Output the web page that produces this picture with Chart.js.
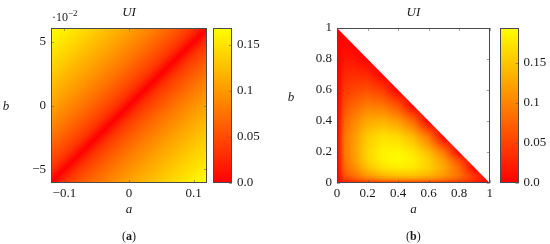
<!DOCTYPE html>
<html>
<head>
<meta charset="utf-8">
<script src="https://cdn.jsdelivr.net/npm/chart.js@4.4.1/dist/chart.umd.min.js"></script>
<style>
  body { margin: 0; background: #fff; }
  #wrap { position: relative; width: 550px; height: 244px; overflow: hidden; }
  canvas { position: absolute; top: 0; }
</style>
</head>
<body>
<div id="wrap">
  <canvas id="heatA" width="210" height="244" style="left:0px"></canvas>
  <canvas id="barA" width="65" height="244" style="left:210px"></canvas>
  <canvas id="heatB" width="214" height="244" style="left:282px"></canvas>
  <canvas id="barB" width="54" height="244" style="left:496px"></canvas>
</div>
<script>
// ---- (a) UI over a, b (values at grid nodes) ----
const leftA = [-0.12, -0.10, -0.08, -0.06, -0.04, -0.02, 0, 0.02, 0.04, 0.06, 0.08, 0.10, 0.12];
const leftB = [-0.06, -0.05, -0.04, -0.03, -0.02, -0.01, 0, 0.01, 0.02, 0.03, 0.04, 0.05, 0.06];
// rows follow leftB, columns follow leftA
const leftUI = [
  [0, 0.033, 0.052, 0.068, 0.082, 0.095, 0.107, 0.118, 0.129, 0.139, 0.149, 0.159, 0.168],
  [0.033, 0, 0.033, 0.052, 0.068, 0.082, 0.095, 0.107, 0.118, 0.129, 0.139, 0.149, 0.159],
  [0.052, 0.033, 0, 0.033, 0.052, 0.068, 0.082, 0.095, 0.107, 0.118, 0.129, 0.139, 0.149],
  [0.068, 0.052, 0.033, 0, 0.033, 0.052, 0.068, 0.082, 0.095, 0.107, 0.118, 0.129, 0.139],
  [0.082, 0.068, 0.052, 0.033, 0, 0.033, 0.052, 0.068, 0.082, 0.095, 0.107, 0.118, 0.129],
  [0.095, 0.082, 0.068, 0.052, 0.033, 0, 0.033, 0.052, 0.068, 0.082, 0.095, 0.107, 0.118],
  [0.107, 0.095, 0.082, 0.068, 0.052, 0.033, 0, 0.033, 0.052, 0.068, 0.082, 0.095, 0.107],
  [0.118, 0.107, 0.095, 0.082, 0.068, 0.052, 0.033, 0, 0.033, 0.052, 0.068, 0.082, 0.095],
  [0.129, 0.118, 0.107, 0.095, 0.082, 0.068, 0.052, 0.033, 0, 0.033, 0.052, 0.068, 0.082],
  [0.139, 0.129, 0.118, 0.107, 0.095, 0.082, 0.068, 0.052, 0.033, 0, 0.033, 0.052, 0.068],
  [0.149, 0.139, 0.129, 0.118, 0.107, 0.095, 0.082, 0.068, 0.052, 0.033, 0, 0.033, 0.052],
  [0.159, 0.149, 0.139, 0.129, 0.118, 0.107, 0.095, 0.082, 0.068, 0.052, 0.033, 0, 0.033],
  [0.168, 0.159, 0.149, 0.139, 0.129, 0.118, 0.107, 0.095, 0.082, 0.068, 0.052, 0.033, 0]
];
const leftATicks = [-0.1, 0, 0.1];
const leftATickLabels = ['\u22120.1', '0', '0.1'];
const leftBTicks = [-0.05, 0, 0.05];
const leftBTickLabels = ['\u22125', '0', '5'];
const leftColorMax = 0.168;
const leftColorTicks = [0, 0.05, 0.1, 0.15];
const leftColorLabels = ['0.0', '0.05', '0.1', '0.15'];

// ---- (b) UI over the simplex a + b <= 1 (null = outside the triangle) ----
const rightA = [0, 0.05, 0.1, 0.2, 0.3, 0.4, 0.5, 0.6, 0.7, 0.8, 0.9, 1];
const rightB = [0, 0.01, 0.025, 0.05, 0.1, 0.15, 0.2, 0.3, 0.4, 0.5, 0.6, 0.7, 0.8, 0.9, 1];
const rightUI = [
  [0, 0, 0, 0, 0, 0, 0, 0, 0, 0, 0, 0],
  [0, 0.029, 0.037, 0.054, 0.065, 0.069, 0.070, 0.066, 0.057, 0.045, 0.026, null],
  [0, 0.048, 0.062, 0.090, 0.107, 0.114, 0.114, 0.107, 0.092, 0.070, 0.038, null],
  [0, 0.064, 0.082, 0.119, 0.140, 0.149, 0.148, 0.137, 0.116, 0.084, 0.037, null],
  [0, 0.079, 0.101, 0.146, 0.171, 0.180, 0.175, 0.157, 0.126, 0.079, 0, null],
  [0, 0.086, 0.110, 0.159, 0.183, 0.190, 0.181, 0.156, 0.115, 0.052, null, null],
  [0, 0.089, 0.113, 0.161, 0.184, 0.187, 0.173, 0.141, 0.090, 0, null, null],
  [0, 0.088, 0.111, 0.153, 0.170, 0.164, 0.138, 0.089, 0, null, null, null],
  [0, 0.077, 0.096, 0.128, 0.134, 0.118, 0.079, 0, null, null, null, null],
  [0, 0.060, 0.074, 0.094, 0.089, 0.062, 0, null, null, null, null, null],
  [0, 0.043, 0.051, 0.060, 0.045, 0, null, null, null, null, null, null],
  [0, 0.029, 0.033, 0.030, 0, null, null, null, null, null, null, null],
  [0, 0.015, 0.016, 0, null, null, null, null, null, null, null, null],
  [0, 0.006, 0, null, null, null, null, null, null, null, null, null],
  [0, null, null, null, null, null, null, null, null, null, null, null]
];
const rightTicks = [0, 0.2, 0.4, 0.6, 0.8, 1];
const rightTickLabels = ['0', '0.2', '0.4', '0.6', '0.8', '1'];
const rightColorMax = 0.193;
const rightColorTicks = [0, 0.05, 0.1, 0.15];
const rightColorLabels = ['0.0', '0.05', '0.1', '0.15'];

const serif = '"Liberation Serif", "Times New Roman", serif';
Chart.defaults.font.family = serif;
Chart.defaults.font.size = 13;
Chart.defaults.color = '#1a1a1a';

// shading between grid nodes (interp shader): either two linear triangles
// split along the rising diagonal, or plain bilinear
function lookup(xs, ys, vals, a, b, mode) {
  let i = 0;
  while (i < xs.length - 2 && a > xs[i + 1]) i++;
  let j = 0;
  while (j < ys.length - 2 && b > ys[j + 1]) j++;
  const t = Math.min(1, Math.max(0, (a - xs[i]) / (xs[i + 1] - xs[i])));
  const u = Math.min(1, Math.max(0, (b - ys[j]) / (ys[j + 1] - ys[j])));
  const g = (jj, ii) => vals[jj][ii] ?? 0;
  const g00 = g(j, i), g10 = g(j, i + 1), g01 = g(j + 1, i), g11 = g(j + 1, i + 1);
  if (mode === 'tri') {
    if (t >= u) return g00 + t * (g10 - g00) + u * (g11 - g10);
    return g00 + u * (g01 - g00) + t * (g11 - g01);
  }
  return (1 - t) * (1 - u) * g00 + t * (1 - u) * g10 + (1 - t) * u * g01 + t * u * g11;
}

const shadePlugin = {
  id: 'shade',
  beforeDatasetsDraw(chart, args, opts) {
    if (!opts.vals) return;
    const { ctx, chartArea: ca, scales: { x, y } } = chart;
    const x0 = Math.floor(ca.left), y0 = Math.floor(ca.top);
    const w = Math.ceil(ca.right) - x0, h = Math.ceil(ca.bottom) - y0;
    const off = document.createElement('canvas');
    off.width = w; off.height = h;
    const octx = off.getContext('2d');
    const img = octx.createImageData(w, h);
    for (let py = 0; py < h; py++) {
      const b = y.getValueForPixel(y0 + py + 0.5);
      for (let px = 0; px < w; px++) {
        const a = x.getValueForPixel(x0 + px + 0.5);
        const v = lookup(opts.xs, opts.ys, opts.vals, a, b, opts.mode);
        const k = 4 * (py * w + px);
        img.data[k] = 255;
        img.data[k + 1] = Math.round(255 * Math.min(1, Math.max(0, v / opts.vmax)));
        img.data[k + 2] = 0;
        img.data[k + 3] = 255;
      }
    }
    octx.putImageData(img, 0, 0);
    ctx.save();
    ctx.beginPath();
    if (opts.triangle) {
      ctx.moveTo(x.getPixelForValue(0), y.getPixelForValue(0));
      ctx.lineTo(x.getPixelForValue(1), y.getPixelForValue(0));
      ctx.lineTo(x.getPixelForValue(0), y.getPixelForValue(1));
      ctx.closePath();
    } else {
      ctx.rect(ca.left, ca.top, ca.width, ca.height);
    }
    ctx.clip();
    ctx.drawImage(off, x0, y0);
    ctx.restore();
  }
};

const colorbarPlugin = {
  id: 'colorbar',
  beforeDatasetsDraw(chart, args, opts) {
    if (!opts.vmax) return;
    const { ctx, chartArea: ca, scales: { y } } = chart;
    const grad = ctx.createLinearGradient(0, y.getPixelForValue(0), 0, y.getPixelForValue(opts.vmax));
    grad.addColorStop(0, 'rgb(255,0,0)');
    grad.addColorStop(1, 'rgb(255,255,0)');
    ctx.save();
    ctx.fillStyle = grad;
    ctx.fillRect(ca.left, ca.top, ca.width, ca.height);
    ctx.restore();
  }
};

// frame plus small inward tick marks
const framePlugin = {
  id: 'frame',
  afterDatasetsDraw(chart, args, opts) {
    const { ctx, chartArea: ca, scales } = chart;
    const L = 3;
    ctx.save();
    ctx.strokeStyle = 'rgba(90,90,90,0.55)';
    ctx.lineWidth = 1;
    ctx.beginPath();
    if (scales.x.options.display) {
      for (const t of scales.x.ticks) {
        const px = Math.round(scales.x.getPixelForValue(t.value)) + 0.5;
        ctx.moveTo(px, ca.bottom); ctx.lineTo(px, ca.bottom - L);
        ctx.moveTo(px, ca.top); ctx.lineTo(px, ca.top + L);
      }
    }
    for (const t of scales.y.ticks) {
      const py = Math.round(scales.y.getPixelForValue(t.value)) + 0.5;
      if (!opts.rightOnly) { ctx.moveTo(ca.left, py); ctx.lineTo(ca.left + L, py); }
      ctx.moveTo(ca.right, py); ctx.lineTo(ca.right - L, py);
    }
    ctx.stroke();
    ctx.strokeStyle = '#4a4a4a';
    ctx.strokeRect(Math.round(ca.left) + 0.5, Math.round(ca.top) + 0.5,
                   Math.round(ca.right) - Math.round(ca.left) - 1, Math.round(ca.bottom) - Math.round(ca.top) - 1);
    ctx.restore();
  }
};

// titles, axis names, caption and the 10^-2 multiplier
const textPlugin = {
  id: 'texts',
  afterDraw(chart, args, opts) {
    if (!opts.items) return;
    const { ctx, chartArea: ca } = chart;
    const cx = (ca.left + ca.right) / 2;
    ctx.save();
    ctx.fillStyle = '#1a1a1a';
    ctx.textBaseline = 'alphabetic';
    for (const it of opts.items) {
      let x = it.x === 'center' ? cx : it.x;
      const parts = it.parts || [{ text: it.text, style: it.style || '', size: it.size || 13, dy: 0 }];
      let total = 0;
      for (const p of parts) {
        ctx.font = `${p.style || ''} ${p.size || 13}px ${serif}`;
        total += ctx.measureText(p.text).width;
      }
      if (it.align !== 'left') x -= total / 2;
      ctx.textAlign = 'left';
      for (const p of parts) {
        ctx.font = `${p.style || ''} ${p.size || 13}px ${serif}`;
        ctx.fillText(p.text, x, it.y + (p.dy || 0));
        x += ctx.measureText(p.text).width;
      }
    }
    ctx.restore();
  }
};

function heatChart(id, o) {
  const nodes = [];
  o.ys.forEach((b, j) => o.xs.forEach((a, i) => {
    if (o.vals[j][i] !== null) nodes.push({ x: a, y: b });
  }));
  return new Chart(document.getElementById(id), {
    type: 'scatter',
    data: { datasets: [{ data: nodes, pointRadius: 0, pointHoverRadius: 0 }] },
    plugins: [shadePlugin, framePlugin, textPlugin],
    options: {
      responsive: false,
      animation: false,
      devicePixelRatio: 1,
      events: [],
      layout: { padding: { top: 28, right: o.padRight, left: 0, bottom: 0 } },
      plugins: {
        legend: { display: false },
        tooltip: { enabled: false },
        shade: { xs: o.xs, ys: o.ys, vals: o.vals, vmax: o.vmax, triangle: o.triangle, mode: o.mode },
        frame: {},
        texts: { items: o.texts }
      },
      scales: {
        x: {
          type: 'linear', min: o.xMin, max: o.xMax,
          grid: { display: false, drawTicks: false },
          border: { display: false },
          afterBuildTicks: s => { s.ticks = o.xTicks.map(v => ({ value: v })); },
          afterFit: s => { s.height = 61; },
          ticks: { padding: 3, autoSkip: false, maxRotation: 0, callback: (v, i) => o.xLabels[i] }
        },
        y: {
          type: 'linear', min: o.yMin, max: o.yMax,
          grid: { display: false, drawTicks: false },
          border: { display: false },
          afterBuildTicks: s => { s.ticks = o.yTicks.map(v => ({ value: v })); },
          afterFit: s => { s.width = o.yWidth; },
          ticks: { padding: 5, autoSkip: false, callback: (v, i) => o.yLabels[i] }
        }
      }
    }
  });
}

function colorBar(id, o) {
  return new Chart(document.getElementById(id), {
    type: 'scatter',
    data: { datasets: [] },
    plugins: [colorbarPlugin, framePlugin],
    options: {
      responsive: false,
      animation: false,
      devicePixelRatio: 1,
      events: [],
      layout: { padding: { top: 28, bottom: 61, left: o.padLeft, right: 0 } },
      plugins: {
        legend: { display: false },
        tooltip: { enabled: false },
        colorbar: { vmax: o.vmax },
        frame: { rightOnly: true }
      },
      scales: {
        x: { display: false, min: 0, max: 1 },
        y: {
          position: 'right', min: 0, max: o.vmax,
          grid: { display: false, drawTicks: false },
          border: { display: false },
          afterBuildTicks: s => { s.ticks = o.ticks.map(v => ({ value: v })); },
          afterFit: s => { s.width = o.width; },
          ticks: { padding: 5, autoSkip: false, callback: (v, i) => o.labels[i] }
        }
      }
    }
  });
}

heatChart('heatA', {
  xs: leftA, ys: leftB, vals: leftUI, vmax: leftColorMax, triangle: false, mode: 'tri',
  xMin: -0.1207, xMax: 0.1207, yMin: -0.0607, yMax: 0.0607,
  xTicks: leftATicks, xLabels: leftATickLabels,
  yTicks: leftBTicks, yLabels: leftBTickLabels,
  yWidth: 51, padRight: 3,
  texts: [
    { text: 'UI', style: 'italic', x: 'center', y: 16 },
    { align: 'left', x: 52, y: 21, parts: [
      { text: '\u00b710', size: 12 },
      { text: '\u22122', size: 9, dy: -5 }
    ] },
    { text: 'b', style: 'italic', x: 6, y: 110 },
    { text: 'a', style: 'italic', x: 'center', y: 213 },
    { x: 'center', y: 240, parts: [
      { text: '(', size: 12 }, { text: 'a', style: 'bold', size: 12 }, { text: ')', size: 12 }
    ] }
  ]
});

colorBar('barA', { vmax: leftColorMax, ticks: leftColorTicks, labels: leftColorLabels, padLeft: 3, width: 43 });

heatChart('heatB', {
  xs: rightA, ys: rightB, vals: rightUI, vmax: rightColorMax, triangle: true, mode: 'bilinear',
  xMin: 0, xMax: 1, yMin: 0, yMax: 1,
  xTicks: rightTicks, xLabels: rightTickLabels,
  yTicks: rightTicks, yLabels: rightTickLabels,
  yWidth: 55, padRight: 3,
  texts: [
    { text: 'UI', style: 'italic', x: 'center', y: 16 },
    { text: 'b', style: 'italic', x: 9, y: 101 },
    { text: 'a', style: 'italic', x: 'center', y: 213 },
    { x: 'center', y: 240, parts: [
      { text: '(', size: 12 }, { text: 'b', style: 'bold', size: 12 }, { text: ')', size: 12 }
    ] }
  ]
});

colorBar('barB', { vmax: rightColorMax, ticks: rightColorTicks, labels: rightColorLabels, padLeft: 4, width: 31.5 });
</script>
</body>
</html>
